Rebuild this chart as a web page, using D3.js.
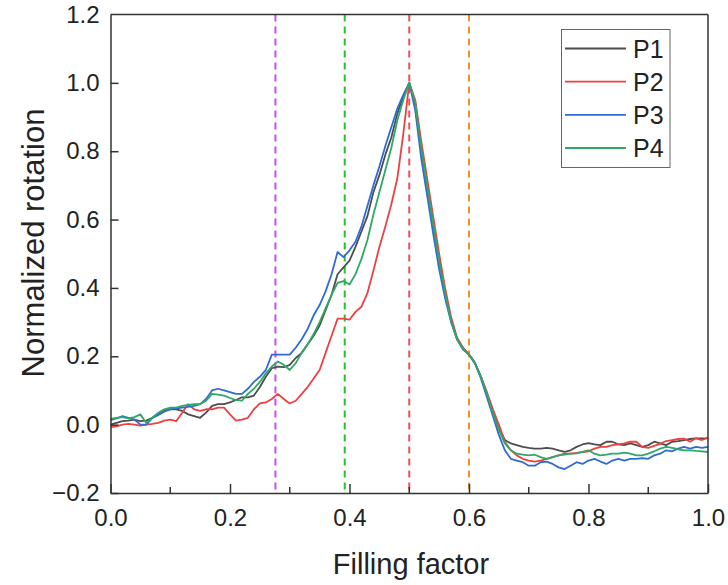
<!DOCTYPE html>
<html>
<head>
<meta charset="utf-8">
<script src="https://cdn.jsdelivr.net/npm/d3@7"></script>
<style>
  body { margin: 0; background: #fff; }
  #chart { width: 728px; height: 585px; }
  text { font-family: "Liberation Sans", Arial, sans-serif; fill: #222; }
</style>
</head>
<body>
<div id="chart"></div>
<script>

// filling factor samples (x)
const fillFactor = [
  0.00,0.01,0.02,0.03,0.04,0.05,0.06,0.07,0.08,0.09,
  0.10,0.11,0.12,0.13,0.14,0.15,0.16,0.17,0.18,0.19,
  0.20,0.21,0.22,0.23,0.24,0.25,0.26,0.27,0.28,0.29,
  0.30,0.31,0.32,0.33,0.34,0.35,0.36,0.37,0.38,0.39,
  0.40,0.41,0.42,0.43,0.44,0.45,0.46,0.47,0.48,0.49,
  0.50,0.51,0.52,0.53,0.54,0.55,0.56,0.57,0.58,0.59,
  0.60,0.61,0.62,0.63,0.64,0.65,0.66,0.67,0.68,0.69,
  0.70,0.71,0.72,0.73,0.74,0.75,0.76,0.77,0.78,0.79,
  0.80,0.81,0.82,0.83,0.84,0.85,0.86,0.87,0.88,0.89,
  0.90,0.91,0.92,0.93,0.94,0.95,0.96,0.97,0.98,0.99,
  1.00
];

const p1 = [
  0.000,0.005,0.010,0.012,0.015,0.010,0.012,0.020,0.030,0.040,
  0.045,0.045,0.040,0.030,0.025,0.020,0.035,0.055,0.060,0.060,
  0.065,0.072,0.080,0.080,0.085,0.110,0.140,0.165,0.170,0.168,
  0.175,0.195,0.210,0.235,0.260,0.290,0.335,0.380,0.440,0.460,
  0.480,0.520,0.565,0.610,0.680,0.730,0.790,0.840,0.910,0.960,
  1.000,0.940,0.810,0.700,0.590,0.480,0.385,0.305,0.250,0.225,
  0.205,0.180,0.140,0.090,0.040,-0.010,-0.045,-0.055,-0.060,-0.065,
  -0.068,-0.070,-0.070,-0.068,-0.070,-0.075,-0.080,-0.075,-0.065,-0.058,
  -0.054,-0.058,-0.060,-0.050,-0.050,-0.058,-0.060,-0.055,-0.060,-0.065,
  -0.060,-0.050,-0.055,-0.060,-0.050,-0.048,-0.045,-0.042,-0.040,-0.040,
  -0.040
];

const p2 = [
  -0.007,-0.005,0.000,0.002,0.000,-0.003,0.000,0.002,0.005,0.012,
  0.015,0.010,0.035,0.060,0.045,0.040,0.045,0.045,0.050,0.050,
  0.030,0.012,0.015,0.020,0.045,0.062,0.065,0.075,0.090,0.075,
  0.062,0.070,0.090,0.110,0.135,0.160,0.210,0.260,0.310,0.310,
  0.307,0.330,0.345,0.385,0.450,0.520,0.580,0.645,0.720,0.850,
  1.000,0.950,0.830,0.720,0.610,0.500,0.400,0.315,0.255,0.225,
  0.205,0.180,0.140,0.095,0.045,0.000,-0.050,-0.075,-0.090,-0.100,
  -0.105,-0.108,-0.105,-0.100,-0.095,-0.090,-0.085,-0.085,-0.083,-0.080,
  -0.078,-0.070,-0.065,-0.065,-0.060,-0.058,-0.055,-0.050,-0.050,-0.065,
  -0.068,-0.062,-0.056,-0.048,-0.045,-0.042,-0.041,-0.050,-0.040,-0.045,
  -0.038
];

const p3 = [
  0.013,0.018,0.025,0.020,0.015,0.000,0.000,0.020,0.028,0.038,
  0.045,0.048,0.050,0.052,0.055,0.060,0.075,0.100,0.105,0.100,
  0.095,0.090,0.090,0.105,0.125,0.140,0.160,0.205,0.205,0.205,
  0.205,0.225,0.250,0.280,0.320,0.350,0.390,0.440,0.505,0.490,
  0.510,0.535,0.580,0.640,0.700,0.755,0.815,0.870,0.925,0.965,
  1.000,0.920,0.780,0.670,0.560,0.455,0.370,0.300,0.250,0.220,
  0.205,0.180,0.135,0.080,0.025,-0.030,-0.075,-0.100,-0.105,-0.110,
  -0.120,-0.120,-0.110,-0.108,-0.115,-0.125,-0.130,-0.120,-0.110,-0.115,
  -0.105,-0.100,-0.108,-0.115,-0.105,-0.100,-0.105,-0.100,-0.100,-0.098,
  -0.100,-0.090,-0.085,-0.075,-0.078,-0.070,-0.065,-0.070,-0.065,-0.068,
  -0.065
];

const p4 = [
  0.017,0.020,0.022,0.018,0.022,0.030,0.005,0.020,0.035,0.045,
  0.050,0.050,0.055,0.058,0.060,0.060,0.070,0.090,0.088,0.085,
  0.078,0.072,0.070,0.090,0.105,0.125,0.150,0.170,0.185,0.175,
  0.160,0.180,0.210,0.235,0.265,0.300,0.340,0.380,0.415,0.420,
  0.410,0.440,0.485,0.540,0.615,0.680,0.745,0.810,0.890,0.950,
  1.000,0.940,0.810,0.700,0.590,0.480,0.385,0.305,0.250,0.222,
  0.205,0.180,0.140,0.090,0.035,-0.015,-0.055,-0.075,-0.085,-0.088,
  -0.090,-0.088,-0.095,-0.100,-0.095,-0.090,-0.088,-0.085,-0.084,-0.080,
  -0.075,-0.085,-0.090,-0.088,-0.085,-0.085,-0.082,-0.085,-0.090,-0.090,
  -0.085,-0.078,-0.070,-0.065,-0.068,-0.072,-0.075,-0.075,-0.077,-0.078,
  -0.080
];

const seriesNames = ["P1", "P2", "P3", "P4"];
const seriesColors = ["#4d4d4d", "#ee4040", "#2f6bd6", "#2ea866"];

// vertical reference lines
const markerX = [0.276, 0.392, 0.50, 0.60];
const markerColors = ["#cc4ff0", "#22c42c", "#f0505c", "#f0952a"];

const xTicks = [0.0, 0.2, 0.4, 0.6, 0.8, 1.0];
const xMinor = [0.1, 0.3, 0.5, 0.7, 0.9];
const yTicks = [-0.2, 0.0, 0.2, 0.4, 0.6, 0.8, 1.0, 1.2];

const width = 728, height = 585;
const margin = {top: 14.5, right: 20, bottom: 92, left: 110.5};

const svg = d3.select("#chart")
    .append("svg")
    .attr("width", width)
    .attr("height", height);

const x = d3.scaleLinear()
    .domain([0, 1])
    .range([margin.left, width - margin.right]);

const y = d3.scaleLinear()
    .domain([-0.2, 1.2])
    .range([height - margin.bottom, margin.top]);

// dashed markers
svg.selectAll("line.marker")
    .data(markerX)
    .enter()
    .append("line")
    .attr("class", "marker")
    .attr("x1", d => x(d))
    .attr("x2", d => x(d))
    .attr("y1", y(1.2))
    .attr("y2", y(-0.2))
    .attr("stroke", (d, i) => markerColors[i])
    .attr("stroke-width", 2)
    .attr("stroke-dasharray", "7,5");

// curves
const allSeries = [p1, p2, p3, p4];
const line = d3.line()
    .x((d, i) => x(fillFactor[i]))
    .y(d => y(d));

svg.selectAll("path.curve")
    .data(allSeries)
    .enter()
    .append("path")
    .attr("class", "curve")
    .attr("d", line)
    .attr("fill", "none")
    .attr("stroke", (d, i) => seriesColors[i])
    .attr("stroke-width", 1.8)
    .attr("stroke-linejoin", "round");

// axes
const xAxis = d3.axisBottom(x)
    .tickValues(xTicks)
    .tickFormat(d3.format(".1f"))
    .tickSizeInner(-9)
    .tickSizeOuter(0)
    .tickPadding(16);

const gx = svg.append("g")
    .attr("transform", `translate(0,${y(-0.2)})`)
    .call(xAxis);

gx.selectAll(".tick.minor")
    .data(xMinor)
    .enter()
    .append("line")
    .attr("x1", d => x(d))
    .attr("x2", d => x(d))
    .attr("y1", 0)
    .attr("y2", -6)
    .attr("stroke", "#333")
    .attr("stroke-width", 1.5);

const yAxis = d3.axisLeft(y)
    .tickValues(yTicks)
    .tickFormat(d3.format(".1f"))
    .tickSizeInner(-8)
    .tickSizeOuter(0)
    .tickPadding(11);

const gy = svg.append("g")
    .attr("transform", `translate(${x(0)},0)`)
    .call(yAxis);

[gx, gy].forEach(g => {
    g.select(".domain").attr("stroke", "#333").attr("stroke-width", 1.5);
    g.selectAll(".tick line").attr("stroke", "#333").attr("stroke-width", 1.5);
    g.selectAll(".tick text")
        .attr("font-size", 24)
        .attr("font-family", "'Liberation Sans', Arial, sans-serif")
        .attr("fill", "#222");
});
gy.selectAll(".tick").filter(d => d === 1.2).select("line").remove();

// top + right frame
svg.append("line")
    .attr("x1", x(0)).attr("x2", x(1))
    .attr("y1", y(1.2)).attr("y2", y(1.2))
    .attr("stroke", "#333").attr("stroke-width", 1.5);
svg.append("line")
    .attr("x1", x(1)).attr("x2", x(1))
    .attr("y1", y(1.2)).attr("y2", y(-0.2))
    .attr("stroke", "#333").attr("stroke-width", 1.5);

// axis titles
svg.append("text")
    .attr("x", 411)
    .attr("y", 574)
    .attr("text-anchor", "middle")
    .attr("font-size", 29)
    .text("Filling factor");

svg.append("text")
    .attr("transform", "translate(44,243) rotate(-90)")
    .attr("text-anchor", "middle")
    .attr("font-size", 31)
    .text("Normalized rotation");

// legend
const legend = svg.append("g");
legend.append("rect")
    .attr("x", 561.5)
    .attr("y", 29.5)
    .attr("width", 108.5)
    .attr("height", 138)
    .attr("fill", "#fff")
    .attr("stroke", "#666")
    .attr("stroke-width", 1);

const rowY = d3.scalePoint()
    .domain(seriesNames)
    .range([48.5, 148]);

seriesNames.forEach((name, i) => {
    legend.append("line")
        .attr("x1", 565)
        .attr("x2", 626)
        .attr("y1", rowY(name))
        .attr("y2", rowY(name))
        .attr("stroke", seriesColors[i])
        .attr("stroke-width", 1.8);
    legend.append("text")
        .attr("x", 633)
        .attr("y", rowY(name))
        .attr("dy", "0.36em")
        .attr("font-size", 25)
        .text(name);
});

</script>
</body>
</html>
